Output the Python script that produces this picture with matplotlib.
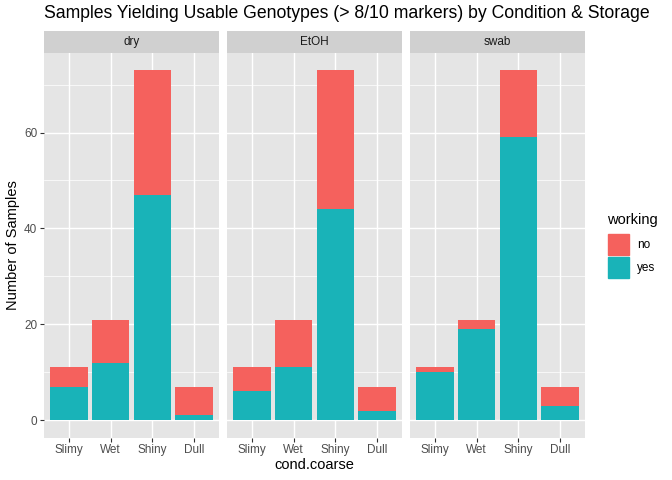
import numpy as np
import matplotlib
matplotlib.use("Agg")
import matplotlib.pyplot as plt
from matplotlib.patches import Rectangle

plt.rcParams['font.family'] = ['Liberation Sans', 'DejaVu Sans']

# data
storage = ['dry', 'EtOH', 'swab']
conds = ['Slimy', 'Wet', 'Shiny', 'Dull']
total = {'dry': [11, 21, 73, 7], 'EtOH': [11, 21, 73, 7], 'swab': [11, 21, 73, 7]}
yes = {'dry': [7, 12, 47, 1], 'EtOH': [6, 11, 44, 2], 'swab': [10, 19, 59, 3]}
legend_labels = ['no', 'yes']
col_no = '#F5615D'
col_yes = '#19B3B8'

W, H = 672, 480
fig = plt.figure(figsize=(W / 100, H / 100), dpi=100)

def px(x0, y0, x1, y1):
    # pixel box (top-left origin) -> figure fraction
    return [x0 / W, 1 - y1 / H, (x1 - x0) / W, (y1 - y0) / H]

panel_x = [44, 227, 410]
pw = 175
ptop, pbot = 52.7, 437.7
strip_top = 31

tick_col = '#4D4D4D'
for i, s in enumerate(storage):
    x0 = panel_x[i]
    ax = fig.add_axes(px(x0, ptop, x0 + pw, pbot))
    ax.set_facecolor('#E5E5E5')
    for sp in ax.spines.values():
        sp.set_visible(False)
    xs = np.arange(1, len(conds) + 1)
    t = np.array(total[s])
    y = np.array(yes[s])
    ax.bar(xs, y, width=0.9, color=col_yes, zorder=3)
    ax.bar(xs, t - y, bottom=y, width=0.9, color=col_no, zorder=3)
    ax.set_xlim(0.4, 4.6)
    ax.set_ylim(-3.65, 76.65)
    ax.set_xticks(xs)
    ax.set_xticklabels(conds, fontsize=8.45, color=tick_col)
    ax.set_yticks([0, 20, 40, 60])
    ax.set_yticks([10, 30, 50, 70], minor=True)
    ax.grid(which='major', color='white', linewidth=1.0, zorder=0)
    ax.grid(which='minor', axis='y', color='white', linewidth=0.5, zorder=0)
    ax.set_axisbelow(True)
    ax.tick_params(axis='x', length=2.64, width=0.8, color='#333333', pad=2.1)
    ax.tick_params(axis='y', which='minor', length=0)
    if i == 0:
        ax.tick_params(axis='y', length=2.64, width=0.8, color='#333333',
                       pad=2.1, labelsize=8.45, labelcolor=tick_col)
    else:
        ax.tick_params(axis='y', length=0, labelleft=False)

    st = fig.add_axes(px(x0, strip_top, x0 + pw, ptop))
    st.set_facecolor('#D0D0D0')
    st.set_xticks([])
    st.set_yticks([])
    for sp in st.spines.values():
        sp.set_visible(False)
    st.text(0.5, 0.5, s, ha='center', va='center', fontsize=8.45,
            color='#1A1A1A', transform=st.transAxes)

# titles
fig.text(44 / W, 1 - 14 / H, 'Samples Yielding Usable Genotypes (> 8/10 markers) by Condition & Storage',
         ha='left', va='center', fontsize=12.67, color='black')
fig.text((44 + 585) / 2 / W, 1 - 465 / H, 'cond.coarse', ha='center', va='center',
         fontsize=10.56, color='black')
fig.text(13 / W, 1 - (ptop + pbot) / 2 / H, 'Number of Samples', ha='center', va='center',
         rotation=90, fontsize=10.56, color='black')

# legend
fig.text(607 / W, 1 - 220 / H, 'working', ha='left', va='center', fontsize=10.56)
key_top = [234, 257]
for lab, c, kt in zip(legend_labels, [col_no, col_yes], key_top):
    fig.patches.append(Rectangle((608 / W, 1 - (kt + 21) / H), 21 / W, 21 / H,
                                 transform=fig.transFigure, color=c))
    fig.text(637 / W, 1 - (kt + 10.5) / H, lab, ha='left', va='center', fontsize=8.45)

fig.savefig('out.png', dpi=100)
